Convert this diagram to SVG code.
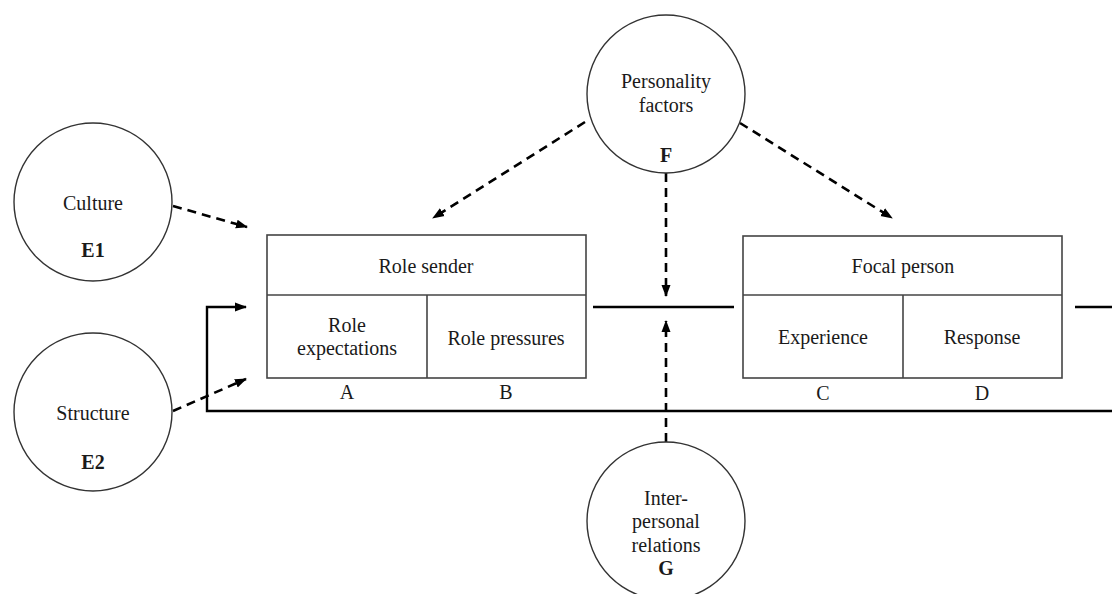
<svg xmlns="http://www.w3.org/2000/svg" width="1112" height="594" viewBox="0 0 1112 594">
<style>
text{font-family:"Liberation Serif","Times New Roman",serif;font-size:20px;fill:#1a1a1a;text-anchor:middle}
.b{font-weight:bold}
.c{fill:#fff;stroke:#333;stroke-width:1.4}
.r{fill:#fff;stroke:#444;stroke-width:1.6}
.s{fill:none;stroke:#000;stroke-width:2.4}
.d{fill:none;stroke:#000;stroke-width:2.6;stroke-dasharray:9 6}
</style>
<defs>
<marker id="ah" markerUnits="userSpaceOnUse" markerWidth="12" markerHeight="10" refX="11" refY="5" orient="auto">
<path d="M0,0.5 L12,5 L0,9.5 Z" fill="#000"/>
</marker>
</defs>
<rect width="1112" height="594" fill="#fff"/>
<g id="connectors">
<path class="s" d="M1112,411 H207 V307 H246" marker-end="url(#ah)"/>
<line class="s" x1="593" y1="307" x2="734" y2="307"/>
<line class="s" x1="1075" y1="307" x2="1112" y2="307"/>
<line class="d" x1="173" y1="206" x2="247" y2="227" marker-end="url(#ah)"/>
<line class="d" x1="173" y1="411" x2="246" y2="379" marker-end="url(#ah)"/>
<line class="d" x1="585" y1="122" x2="433" y2="218" marker-end="url(#ah)"/>
<line class="d" x1="740" y1="123" x2="892" y2="218" marker-end="url(#ah)"/>
<line class="d" x1="666" y1="173" x2="666" y2="296" marker-end="url(#ah)"/>
<line class="d" x1="666" y1="442" x2="666" y2="321" marker-end="url(#ah)"/>
</g>
<g id="culture">
<circle class="c" cx="93" cy="202" r="79"/>
<text x="93" y="210">Culture</text>
<text class="b" x="93" y="257">E1</text>
</g>
<g id="structure">
<circle class="c" cx="93" cy="412" r="79"/>
<text x="93" y="420">Structure</text>
<text class="b" x="93" y="469">E2</text>
</g>
<g id="personality">
<circle class="c" cx="666" cy="94" r="79"/>
<text x="666" y="88">Personality</text>
<text x="666" y="112">factors</text>
<text class="b" x="666" y="162">F</text>
</g>
<g id="interpersonal">
<circle class="c" cx="666" cy="521" r="79"/>
<text x="666" y="505">Inter-</text>
<text x="666" y="528">personal</text>
<text x="666" y="552">relations</text>
<text class="b" x="666" y="575">G</text>
</g>
<g id="role-sender">
<rect class="r" x="267" y="235" width="319" height="143"/>
<line class="r" x1="267" y1="295" x2="586" y2="295"/>
<line class="r" x1="427" y1="295" x2="427" y2="378"/>
<text x="426" y="273">Role sender</text>
<text x="347" y="332">Role</text>
<text x="347" y="355">expectations</text>
<text x="506" y="345">Role pressures</text>
<text x="347" y="399">A</text>
<text x="506" y="399">B</text>
</g>
<g id="focal-person">
<rect class="r" x="743" y="236" width="319" height="142"/>
<line class="r" x1="743" y1="295" x2="1062" y2="295"/>
<line class="r" x1="903" y1="295" x2="903" y2="378"/>
<text x="903" y="273">Focal person</text>
<text x="823" y="344">Experience</text>
<text x="982" y="344">Response</text>
<text x="823" y="400">C</text>
<text x="982" y="400">D</text>
</g>
</svg>
